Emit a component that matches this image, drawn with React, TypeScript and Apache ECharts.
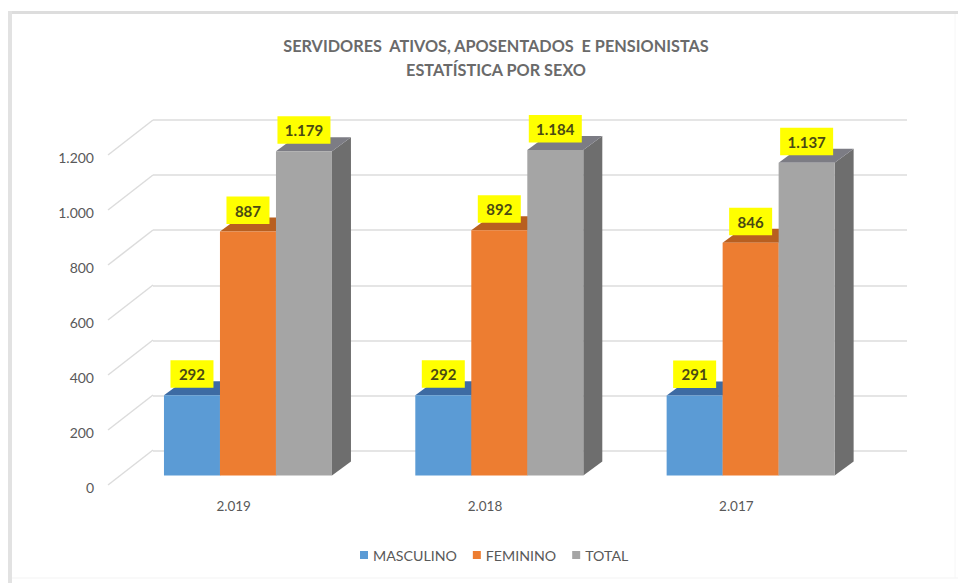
import React, { useEffect, useRef } from "react";
import * as echarts from "echarts";

const categories = ["2.019", "2.018", "2.017"];
const masculino = [292, 292, 291];
const feminino = [887, 892, 846];
const total = [1179, 1184, 1137];
const yTicks = [0, 200, 400, 600, 800, 1000, 1200];
const titleLines = ["SERVIDORES  ATIVOS, APOSENTADOS  E PENSIONISTAS", "ESTATÍSTICA POR SEXO"];

const FONT = "Lato, 'Open Sans', sans-serif";
const TEXT = "#595959";
const GRID = "#dcdcdc";
const fmt = (v: number) => {
  const s = String(v);
  return s.length > 3 ? s.slice(0, -3) + "." + s.slice(-3) : s;
};

function barSeries(name: string, values: number[], index: number, front: string, top: string, side: string) {
  return {
    type: "custom",
    name,
    xAxisIndex: 0,
    yAxisIndex: 0,
    itemStyle: { color: front },
    clip: false,
    data: values.map((v, i) => [i, v]),
    renderItem: (_p: any, api: any) => {
      const cat = api.value(0);
      const val = api.value(1);
      const band = api.size([1, 0])[0];
      const w = band * 0.2228;
      const base = api.coord([cat, 0]);
      const tipY = api.coord([cat, val])[1];
      // bars stand in the middle of the floor's depth
      const x0 = base[0] + 14.3 - 1.5 * w + index * w;
      const x1 = x0 + w;
      const yB = base[1] - 11.5;
      const yT = tipY - 11.5;
      const dx = 19;
      const dy = -14;
      const poly = (points: number[][], fill: string) => ({
        type: "polygon",
        shape: { points },
        style: { fill, stroke: null },
      });
      const cx = (x0 + x1) / 2;
      const isBig = val >= 1000;
      const bw = isBig ? 53 : 43;
      return {
        type: "group",
        children: [
          poly([[x1, yT], [x1 + dx, yT + dy], [x1 + dx, yB + dy], [x1, yB]], side),
          poly([[x0, yT], [x0 + dx, yT + dy], [x1 + dx, yT + dy], [x1, yT]], top),
          poly([[x0, yT], [x1, yT], [x1, yB], [x0, yB]], front),
          {
            type: "rect",
            shape: { x: cx - bw / 2, y: yT - 35, width: bw, height: 27.5 },
            style: { fill: "#ffff00", stroke: null },
          },
          {
            type: "text",
            style: {
              text: fmt(val),
              x: cx,
              y: yT - 21,
              align: "center",
              verticalAlign: "middle",
              fontFamily: FONT,
              fontSize: 15,
              fontWeight: "bold",
              fill: "#4a4a14",
            },
          },
        ],
      };
    },
  };
}

const option: any = {
  animation: false,
  backgroundColor: "#ffffff",
  title: {
    text: titleLines.join("\n"),
    left: 491,
    top: 28,
    textAlign: "center",
    textStyle: { fontFamily: FONT, fontSize: 16.25, fontWeight: "bold", color: "#6a6a6a", lineHeight: 24 },
  },
  legend: {
    data: ["MASCULINO", "FEMININO", "TOTAL"],
    top: 543,
    left: 355,
    itemWidth: 8,
    itemHeight: 8,
    itemGap: 16,
    icon: "rect",
    textStyle: { fontFamily: FONT, fontSize: 14.2, color: TEXT },
  },
  grid: [
    { left: 108, width: 754, top: 157, height: 330 },
    { left: 153, width: 754, top: 120, height: 330.5 },
  ],
  xAxis: [
    {
      type: "category",
      gridIndex: 0,
      data: categories,
      axisLine: { show: false },
      axisTick: { show: false },
      axisLabel: { fontFamily: FONT, fontSize: 13.5, color: TEXT, margin: 12 },
    },
    { type: "category", gridIndex: 1, data: categories, show: false },
  ],
  yAxis: [
    {
      type: "value",
      gridIndex: 0,
      min: 0,
      max: 1200,
      interval: 200,
      axisLine: { show: false },
      axisTick: { show: false },
      splitLine: { show: false },
      axisLabel: { fontFamily: FONT, fontSize: 14, color: TEXT, margin: 14, formatter: fmt },
    },
    {
      type: "value",
      gridIndex: 1,
      min: 0,
      max: 1200,
      interval: 200,
      axisLine: { show: false },
      axisTick: { show: false },
      axisLabel: { show: false },
      splitLine: { show: true, lineStyle: { color: GRID, width: 1.5 } },
    },
  ],
  series: [
    {
      type: "custom",
      name: "wall",
      xAxisIndex: 0,
      yAxisIndex: 0,
      clip: false,
      silent: true,
      data: yTicks.map((t) => [0, t]),
      renderItem: (_p: any, api: any) => {
        const p = api.coord([0, api.value(1)]);
        const x = p[0] - api.size([1, 0])[0] / 2;
        return {
          type: "line",
          shape: { x1: x, y1: p[1] - 2, x2: x + 45, y2: p[1] - 37 },
          style: { stroke: GRID, lineWidth: 1.5 },
        };
      },
    },
    barSeries("MASCULINO", masculino, 0, "#5b9bd5", "#3d6ba3", "#3d6ba3"),
    barSeries("FEMININO", feminino, 1, "#ed7d31", "#b85f20", "#b85f20"),
    barSeries("TOTAL", total, 2, "#a5a5a5", "#7c7c84", "#6e6e6e"),
  ],
  graphic: [
    { type: "line", shape: { x1: 9, y1: 12.5, x2: 958, y2: 12.5 }, style: { stroke: "#dddddd", lineWidth: 3 }, silent: true },
    { type: "line", shape: { x1: 10, y1: 11, x2: 10, y2: 583 }, style: { stroke: "#e2e2e2", lineWidth: 4 }, silent: true },
    { type: "line", shape: { x1: 12, y1: 578, x2: 958, y2: 578 }, style: { stroke: "#f3f3f3", lineWidth: 1 }, silent: true },
    { type: "line", shape: { x1: 955, y1: 14, x2: 955, y2: 578 }, style: { stroke: "#f6f6f6", lineWidth: 1 }, silent: true },
  ],
};

export default function App() {
  const ref = useRef<HTMLDivElement>(null);
  useEffect(() => {
    const chart = echarts.init(ref.current!, null, { renderer: "svg" });
    chart.setOption(option);
    return () => chart.dispose();
  }, []);
  return <div ref={ref} style={{ position: "absolute", left: 0, top: 0, width: 958, height: 583 }} />;
}
